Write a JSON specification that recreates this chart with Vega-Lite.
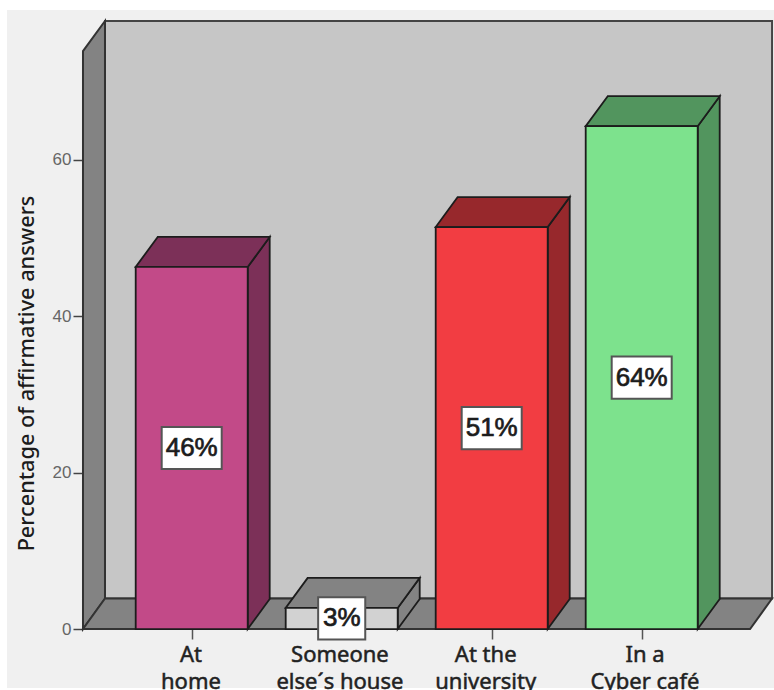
{
"$schema":"https://vega.github.io/schema/vega-lite/v6.json",
"width":767,"height":678,
"autosize":{"type":"none"},
"padding":{"left":7,"top":10,"right":0,"bottom":2},
"background":"#ffffff",
"view":{"fill":"#f0f0f0","stroke":null},
"datasets":{
"bars":[
{"category":"At home","axisLabel":"At\nhome","pos":0,"value":46.3,"shown":"46%"},
{"category":"Someone else´s house","axisLabel":"Someone\nelse´s house","pos":1,"value":2.7,"shown":"3%"},
{"category":"At the university","axisLabel":"At the\nuniversity","pos":2,"value":51.4,"shown":"51%"},
{"category":"In a Cyber café","axisLabel":"In a\nCyber café","pos":3,"value":64.3,"shown":"64%"}
],
"walls":[
{"part":"back","a":-0.578,"b":3.869,"c":3.9,"d":77.75},
{"part":"left","a":-0.7247,"c":0,"d":73.9},
{"part":"left","a":-0.578,"c":3.9,"d":77.75},
{"part":"floor","a":-0.7247,"b":3.7225,"c":0},
{"part":"floor","a":-0.578,"b":3.869,"c":3.9}
]
},
"resolve":{"scale":{"fill":"independent"}},
"layer":[
{"data":{"name":"walls"},"transform":[{"filter":"datum.part==='back'"}],
 "mark":{"type":"rect","fill":"#c6c6c6","stroke":"#444444","strokeWidth":2},
 "encoding":{
  "x":{"field":"a","type":"quantitative","scale":{"domain":[-1.2313,3.882],"nice":false,"zero":false},
       "axis":{"values":[0,1,2,3],"labels":false,"domain":false,"grid":false,"title":null,"offset":-59,"tickSize":10,"tickColor":"#555555","tickWidth":1.5}},
  "x2":{"field":"b"},
  "y":{"field":"c","type":"quantitative","scale":{"domain":[-7.54,79.16],"nice":false,"zero":false},
       "axis":{"values":[0,20,40,60],"domain":false,"grid":false,"offset":-76,"tickSize":10,"tickColor":"#444444","tickWidth":1.5,
               "labelFont":"Liberation Sans","labelFontSize":17,"labelColor":"#666666","labelPadding":2,
               "title":"Percentage of affirmative answers","titleFont":"Noto Sans","titleFontSize":21.7,"titleFontWeight":500,"titleColor":"#1c1c1c","titleX":-45,"titleY":363}},
  "y2":{"field":"d"}}},
{"data":{"name":"walls"},"transform":[{"filter":"datum.part==='left'"}],
 "mark":{"type":"area","fill":"#838383","stroke":"#333333","strokeWidth":2},
 "encoding":{"x":{"field":"a","type":"quantitative"},"y":{"field":"c","type":"quantitative"},"y2":{"field":"d"}}},
{"data":{"name":"walls"},"transform":[{"filter":"datum.part==='floor'"}],
 "mark":{"type":"area","orient":"horizontal","fill":"#838383","stroke":"#333333","strokeWidth":2},
 "encoding":{"y":{"field":"c","type":"quantitative"},"x":{"field":"a","type":"quantitative"},"x2":{"field":"b"}}},
{"data":{"name":"bars"},
 "transform":[{"calculate":"[0,1]","as":"t"},{"flatten":["t"]},
  {"calculate":"datum.pos+0.3733+datum.t*0.1467","as":"sx"},
  {"calculate":"datum.value+datum.t*3.84","as":"sy"},
  {"calculate":"datum.t*3.84","as":"sy2"}],
 "mark":{"type":"area","stroke":"#1c1c1c","strokeWidth":1.8},
 "encoding":{"x":{"field":"sx","type":"quantitative"},"y":{"field":"sy","type":"quantitative"},"y2":{"field":"sy2"},"detail":{"field":"category"},
  "fill":{"field":"category","type":"nominal","legend":null,"scale":{"domain":["At home","Someone else´s house","At the university","In a Cyber café"],"range":["#7c3058","#838383","#97282c","#52955e"]}}}},
{"data":{"name":"bars"},
 "transform":[{"calculate":"[0,1]","as":"t"},{"flatten":["t"]},
  {"calculate":"datum.pos-0.3733+datum.t*0.1467","as":"tx"},
  {"calculate":"datum.pos+0.3733+datum.t*0.1467","as":"tx2"},
  {"calculate":"datum.value+datum.t*3.84","as":"ty"}],
 "mark":{"type":"area","orient":"horizontal","stroke":"#1c1c1c","strokeWidth":1.8},
 "encoding":{"y":{"field":"ty","type":"quantitative"},"x":{"field":"tx","type":"quantitative"},"x2":{"field":"tx2"},"detail":{"field":"category"},
  "fill":{"field":"category","type":"nominal","legend":null,"scale":{"domain":["At home","Someone else´s house","At the university","In a Cyber café"],"range":["#7c3058","#838383","#97282c","#52955e"]}}}},
{"data":{"name":"bars"},
 "transform":[{"calculate":"datum.pos-0.3733","as":"fx"},{"calculate":"datum.pos+0.3733","as":"fx2"}],
 "mark":{"type":"rect","stroke":"#1c1c1c","strokeWidth":1.8},
 "encoding":{"x":{"field":"fx","type":"quantitative"},"x2":{"field":"fx2"},"y":{"field":"value","type":"quantitative"},"y2":{"datum":0},
  "fill":{"field":"category","type":"nominal","legend":null,"scale":{"domain":["At home","Someone else´s house","At the university","In a Cyber café"],"range":["#c24a88","#d2d2d2","#f23d42","#7de28d"]}}}},
{"data":{"name":"bars"},
 "transform":[{"calculate":"datum.pos===1?0.157:0.2","as":"hw"},
  {"calculate":"datum.pos-datum.hw","as":"bx"},{"calculate":"datum.pos+datum.hw","as":"bx2"},
  {"calculate":"datum.value/2-2.7","as":"by"},{"calculate":"datum.value/2+2.7","as":"by2"}],
 "mark":{"type":"rect","fill":"#ffffff","stroke":"#555555","strokeWidth":2},
 "encoding":{"x":{"field":"bx","type":"quantitative"},"x2":{"field":"bx2"},"y":{"field":"by","type":"quantitative"},"y2":{"field":"by2"}}},
{"data":{"name":"bars"},
 "transform":[{"calculate":"datum.value/2","as":"my"}],
 "mark":{"type":"text","font":"Liberation Sans","fontSize":26,"color":"#1c1c1c","stroke":"#1c1c1c","strokeWidth":0.7,"baseline":"middle","align":"center"},
 "encoding":{"x":{"field":"pos","type":"quantitative"},"y":{"field":"my","type":"quantitative"},"text":{"field":"shown"}}},
{"data":{"name":"bars"},
 "transform":[{"calculate":"datum.pos+[-0.005,-0.012,-0.04,0.022][datum.pos]","as":"lx"}],
 "mark":{"type":"text","font":"Noto Sans","fontSize":22,"color":"#222222","stroke":"#222222","strokeWidth":0.5,"baseline":"top","align":"center","lineBreak":"\n","lineHeight":27,"dy":16},
 "encoding":{"x":{"field":"lx","type":"quantitative"},"y":{"datum":0},"text":{"field":"axisLabel"}}}
]
}
